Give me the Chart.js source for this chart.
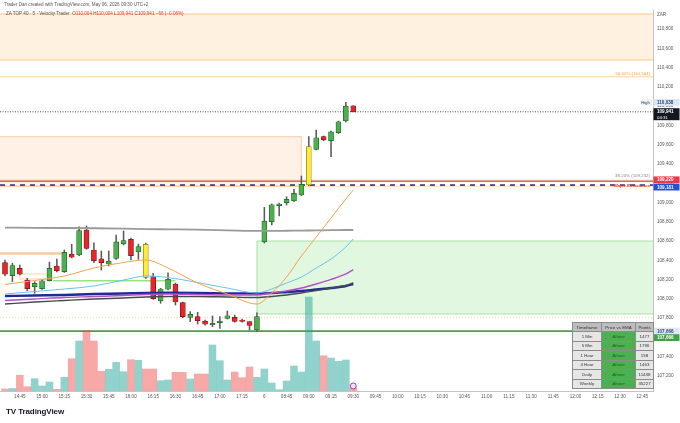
<!DOCTYPE html>
<html>
<head>
<meta charset="utf-8">
<script src="https://cdn.jsdelivr.net/npm/chart.js@4.4.1/dist/chart.umd.min.js"></script>
<style>
  html, body { margin: 0; padding: 0; background: #fff; }
  #wrap { position: relative; width: 680px; height: 423px; overflow: hidden; font-family: "Liberation Sans", Arial, sans-serif; }
  #box { position: absolute; left: 0; top: 0; width: 680px; height: 423px; }
  .hdr { position: absolute; left: 4px; white-space: nowrap; color: #555; font-size: 4.6px; line-height: 6px; }
  .hdr .v { color: #e53935; }
  #logo { position: absolute; left: 6px; top: 407px; font-size: 8px; font-weight: bold; color: #131722; letter-spacing: -0.1px; }
  #tf { position: absolute; left: 572px; top: 322px; border-collapse: collapse; font-size: 4.4px; color: #333; border: 1px solid #8c8c8c; }
  #tf th, #tf td { border: 0.7px solid #8c8c8c; padding: 0; text-align: center; font-weight: normal; }
  #tf th { background: #bdbdbd; height: 8px; }
  #tf td { background: #e6e6e6; height: 8.5px; }
  #tf td.st { background: #4caf50; color: #1b5e20; font-style: italic; }
</style>
</head>
<body>
<div id="wrap">
  <div id="box"><canvas id="c"></canvas></div>
  <div class="hdr" style="top:2px">Trader Dan created with TradingView.com, May 06, 2026 09:30 UTC+2</div>
  <div class="hdr" style="top:11px;left:6px">ZA TOP 40 · 5 · Velocity Trader &nbsp;O<span class="v">110,004</span> H<span class="v">110,004</span> L<span class="v">109,941</span> C<span class="v">109,941</span> <span class="v">−66 (−0.06%)</span></div>
  <table id="tf"></table>
  <div id="logo">TV TradingView</div>
</div>
<script>
// 5-min bars, index 0 = 14:35
const opens  = [108376,108241,108318,108196,108127,108106,108189,108342,108283,108466,108456,108715,108508,108417,108362,108421,108570,108619,108487,108567,108231,107979,108100,108155,107961,107809,107816,107771,107733,107753,107799,107809,107781,107764,107678,108591,108801,108967,108998,109016,109078,109182,109552,109683,109641,109724,109846,110004];
const highs  = [108404,108370,108352,108214,108179,108196,108383,108414,108508,108567,108749,108757,108583,108497,108497,108663,108705,108630,108570,108580,108266,108110,108272,108165,107968,107868,107861,107781,107823,107816,107875,107833,107791,107764,107857,108950,108985,108995,109060,109137,109275,109683,109752,109690,109741,109845,110038,110004];
const lows   = [108238,108179,108248,108085,108058,108098,108186,108280,108275,108425,108450,108515,108376,108300,108342,108410,108560,108404,108411,108214,107995,107955,108094,107937,107806,107764,107740,107727,107712,107695,107792,107758,107758,107678,107666,108580,108767,108860,108974,109010,109070,109172,109545,109640,109475,109717,109836,109941];
const closes = [108256,108345,108256,108106,108162,108189,108318,108293,108484,108432,108708,108525,108397,108376,108393,108591,108604,108448,108542,108224,108002,108103,108204,107968,107816,107841,107774,107737,107747,107771,107826,107768,107768,107726,107816,108808,108977,108985,109033,109096,109189,109579,109672,109649,109732,109838,110001,109941];
const volumes = [20,25,157,43,123,50,90,17,137,323,500,607,500,197,217,287,193,313,307,220,220,103,110,187,187,120,170,170,460,303,110,190,133,240,137,220,80,13,100,250,190,940,500,353,330,297,310,30];
const yellowBars = [19, 41];

// moving averages, sampled at these bar indexes
const maIdx    = [0,4,8,12,16,19,22,26,30,34,36,38,40,42,44,46,47];
const maOrange = [108150,108191,108238,108321,108378,108404,108321,108165,108051,107947,108062,108227,108445,108642,108839,109037,109130];
const maCyan   = [108051,108077,108103,108134,108196,108238,108222,108170,108113,108062,108103,108165,108227,108321,108414,108539,108622];
const maNavy   = [108030,108036,108041,108051,108056,108062,108064,108062,108058,108056,108062,108072,108082,108098,108113,108134,108155];
const maPurple = [107984,107999,108015,108025,108036,108046,108051,108046,108041,108041,108062,108082,108113,108155,108202,108259,108305];
const maBlack  = [107947,107968,107984,107999,108010,108020,108025,108025,108020,108015,108025,108041,108062,108087,108113,108139,108165];
const maGray   = [108739,108738,108736,108733,108729,108725,108722,108718,108712,108705,108705,108707,108709,108711,108713,108715,108715];

// time axis
const timeTicks  = [2,5,8,11,14,17,20,23,26,29,32,35,38,41,44,47,50,53,56,59,62,65,68,71,74,77,80,83,86];
const timeLabels = ['14:45','15:00','15:15','15:30','15:45','16:00','16:15','16:30','16:45','17:00','17:15','6','08:45','09:00','09:15','09:30','09:45','10:00','10:15','10:30','10:45','11:00','11:15','11:30','11:45','12:00','12:15','12:30','12:45'];
const xMin = -0.675, xMax = 87.45;

// price axis
const priceTicks = [107200,107400,107600,107800,108000,108200,108400,108600,108800,109000,109200,109400,109600,109800,110000,110200,110400,110600,110800];
const priceMin = 107045, priceMax = 110997;
const volMax = 3810;

// levels and zones
const dayHigh = 110038, dayLow = 107666, lastPrice = 109941;
const fib50 = 110304, fib382 = 109232, resistance = 109220, blueLevel = 109181, dottedLevel = 107805;
const topZone = [110478, 110956];
const sellZone = [109171, 109683], sellZoneEnd = 40;
const gapZone = [107844, 108601], gapZoneStart = 34;
const leftBand = [108470, 8];          // price, last bar
const leftBox = [108207, 108259, 2, 6];
const greenLine = [108189, 6.5, 23];
const markerPrice = 107097;

// table
const tfNames  = ['1 Min','5 Min','1 Hour','4 Hour','Daily','Weekly'];
const tfState  = ['Above','Above','Above','Above','Above','Above'];
const tfPoints = [1477,1796,158,1463,11438,35227];

const FONT = '"Liberation Sans", Arial, sans-serif';
const fmt = v => Math.round(v).toLocaleString('en-US');

// table
const tf = document.getElementById('tf');
tf.innerHTML = '<tr><th style="width:28px">Timeframe</th><th style="width:33px">Price vs EMA</th><th style="width:17px">Points</th></tr>' +
  tfNames.map((n, i) => `<tr><td>${n}</td><td class="st">${tfState[i]}</td><td>${tfPoints[i]}</td></tr>`).join('');

// candle pieces
const idx = opens.map((_, i) => i);
const up = idx.map(i => closes[i] >= opens[i]);
const bodyFill = idx.map(i => yellowBars.includes(i) ? '#ffeb3b' : (up[i] ? '#4caf50' : '#e8262a'));
const bodyLine = idx.map(i => yellowBars.includes(i) ? '#8d7c10' : (up[i] ? '#1f5f22' : '#7c1414'));
const volFill = idx.map(i => up[i] ? 'rgba(38,166,154,0.5)' : 'rgba(239,83,80,0.5)');

const maLine = (vals, color, w) => ({
  type: 'line', data: maIdx.map((v, k) => ({ x: v, y: vals[k] })),
  borderColor: color, borderWidth: w, pointRadius: 0, cubicInterpolationMode: 'monotone', order: 1, yAxisID: 'y'
});

const overlay = {
  id: 'overlay',
  beforeDatasetsDraw(chart) {
    const { ctx, chartArea: a, scales: { x, y } } = chart;
    const X = v => x.getPixelForValue(v), Y = v => y.getPixelForValue(v);
    ctx.save();
    ctx.beginPath(); ctx.rect(a.left, a.top, a.right - a.left, a.bottom - a.top); ctx.clip();
    const fillBox = (i0, i1, p0, p1, c) => { ctx.fillStyle = c; ctx.fillRect(X(i0), Y(p1), X(i1) - X(i0), Y(p0) - Y(p1)); };
    const hline = (p, c, w, dash, i0 = xMin, i1 = xMax) => {
      ctx.strokeStyle = c; ctx.lineWidth = w; ctx.setLineDash(dash || []);
      ctx.beginPath(); ctx.moveTo(X(i0), Y(p)); ctx.lineTo(X(i1), Y(p)); ctx.stroke();
      ctx.setLineDash([]);
    };
    const vline = (i, p0, p1, c) => {
      ctx.strokeStyle = c; ctx.lineWidth = 1;
      ctx.beginPath(); ctx.moveTo(X(i), Y(p0)); ctx.lineTo(X(i), Y(p1)); ctx.stroke();
    };
    // top supply zone
    fillBox(xMin, xMax, topZone[0], topZone[1], 'rgba(255,167,60,0.16)');
    hline(topZone[0], 'rgba(245,160,60,0.55)', 1);
    hline(topZone[1], 'rgba(245,160,60,0.55)', 1);
    // sell zone
    fillBox(xMin, sellZoneEnd, sellZone[0], sellZone[1], 'rgba(255,160,80,0.15)');
    hline(sellZone[1], 'rgba(245,170,100,0.55)', 1, null, xMin, sellZoneEnd);
    hline(sellZone[0], 'rgba(245,170,100,0.55)', 1, null, xMin, sellZoneEnd);
    vline(sellZoneEnd, sellZone[0], sellZone[1], 'rgba(245,170,100,0.55)');
    // gap zone
    fillBox(gapZoneStart, xMax, gapZone[0], gapZone[1], 'rgba(110,215,100,0.2)');
    hline(gapZone[1], 'rgba(120,210,110,0.6)', 1, null, gapZoneStart, xMax);
    hline(gapZone[0], 'rgba(120,210,110,0.6)', 1, null, gapZoneStart, xMax);
    vline(gapZoneStart, gapZone[0], gapZone[1], 'rgba(120,210,110,0.6)');
    // small marks on the left
    hline(leftBand[0], 'rgba(246,180,120,0.7)', 2.5, null, xMin, leftBand[1]);
    ctx.strokeStyle = 'rgba(246,180,120,0.7)'; ctx.lineWidth = 0.8;
    ctx.strokeRect(X(leftBox[2]), Y(leftBox[1]), X(leftBox[3]) - X(leftBox[2]), Y(leftBox[0]) - Y(leftBox[1]));
    hline(greenLine[0], '#9be37e', 1.5, null, greenLine[1], greenLine[2]);
    // levels
    hline(fib50, 'rgba(245,160,60,0.6)', 0.8);
    hline(lastPrice, '#333', 0.9, [1, 1.5]);
    hline(fib382, 'rgba(245,160,60,0.5)', 0.8);
    hline(resistance, '#e06666', 1.6);
    hline(blueLevel, '#24338f', 1.6, [5, 5]);
    hline(blueLevel - 14, 'rgba(246,190,130,0.6)', 0.8);
    hline(dottedLevel, 'rgba(245,160,80,0.6)', 0.8, [1, 2]);
    hline(dayLow, '#4f9a4f', 1.6);
    ctx.restore();
  },
  afterDraw(chart) {
    const { ctx, chartArea: a, scales: { y } } = chart;
    const Y = v => y.getPixelForValue(v);
    ctx.save();
    ctx.textBaseline = 'middle';
    const tag = (p, text, bg, fg, dy = 0) => {
      const cy = Y(p) + dy;
      ctx.fillStyle = bg; ctx.fillRect(a.right + 0.5, cy - 3.4, 26, 6.8);
      ctx.fillStyle = fg; ctx.font = `bold 4.6px ${FONT}`; ctx.textAlign = 'left';
      ctx.fillText(text, a.right + 4, cy + 0.2);
    };
    const note = (p, text, color, dy, style = '') => {
      ctx.fillStyle = color; ctx.font = `${style} 4.4px ${FONT}`; ctx.textAlign = 'right';
      ctx.fillText(text, a.right - 3, Y(p) + dy);
    };
    tag(dayHigh, fmt(dayHigh), '#dbe7f7', '#2d4a78');
    // last price with countdown
    const cy = Y(lastPrice);
    ctx.fillStyle = '#131722'; ctx.fillRect(a.right + 0.5, cy - 3.6, 26, 12);
    ctx.fillStyle = '#fff'; ctx.font = `bold 4.6px ${FONT}`; ctx.textAlign = 'left';
    ctx.fillText(fmt(lastPrice), a.right + 4, cy);
    ctx.font = `4.4px ${FONT}`; ctx.fillText('04:31', a.right + 4, cy + 5.5);
    tag(resistance, fmt(resistance), '#f23645', '#fff', -1.5);
    tag(blueLevel, fmt(blueLevel), '#2350d8', '#fff', 2);
    tag(dayLow, fmt(dayLow), '#dbe7f7', '#2d4a78');
    tag(dayLow, fmt(dayLow), '#43a047', '#fff', 6.5);
    // labels inside the plot
    note(fib50, '50.00% (110,304)', '#f0a040', -3.5);
    note(fib382, '38.20% (109,232)', '#8a8a8a', -4.5);
    note(blueLevel, 'Major Resistance', '#e53935', 1, 'italic bold');
    ctx.fillStyle = '#e9eef5'; ctx.fillRect(a.right - 12, Y(dayHigh) - 3, 11, 6);
    note(dayHigh, 'High', '#2d4a78', 0.2);
    ctx.fillStyle = '#e9eef5'; ctx.fillRect(a.right - 12, Y(dayLow) - 8, 11, 6);
    note(dayLow, 'Low', '#2d4a78', -4.8);
    // currency
    ctx.fillStyle = '#555'; ctx.font = `4.6px ${FONT}`; ctx.textAlign = 'left';
    ctx.fillText('ZAR', a.right + 4, 15);
    ctx.restore();
  }
};

new Chart(document.getElementById('c'), {
  type: 'bar',
  data: {
    datasets: [
      maLine(maOrange, '#f4a04c', 1),
      maLine(maCyan, '#67c3ea', 1),
      maLine(maPurple, '#b44fc4', 1.4),
      maLine(maBlack, '#4a4a4a', 1.4),
      maLine(maNavy, '#1f2a9a', 2.4),
      maLine(maGray, '#9a9a9a', 1.8),
      {
        type: 'bar', data: idx.map(i => ({ x: i, y: [lows[i], highs[i]] })),
        backgroundColor: '#5a5a5a', barThickness: 0.9, grouped: false, order: 4, yAxisID: 'y'
      },
      {
        type: 'bar', data: idx.map(i => ({ x: i, y: [opens[i], closes[i]] })),
        backgroundColor: bodyFill, borderColor: bodyLine, borderWidth: 0.7, borderSkipped: false,
        barThickness: 5, grouped: false, order: 3, yAxisID: 'y'
      },
      {
        type: 'bar', data: idx.map(i => ({ x: i, y: volumes[i] })),
        backgroundColor: volFill, barThickness: 6.9, grouped: false, order: 6, yAxisID: 'yv'
      },
      {
        type: 'scatter', data: [{ x: 47, y: markerPrice }],
        pointRadius: 3, pointBackgroundColor: '#f3e5f5', pointBorderColor: '#9c27b0', pointBorderWidth: 0.9, order: 0, yAxisID: 'y'
      }
    ]
  },
  options: {
    responsive: true,
    maintainAspectRatio: false,
    animation: false,
    layout: { autoPadding: false, padding: { top: 10, left: 0, right: 0, bottom: 0 } },
    plugins: { legend: { display: false }, tooltip: { enabled: false } },
    scales: {
      x: {
        type: 'linear', min: xMin, max: xMax, offset: false,
        grid: { display: false, drawTicks: false },
        border: { display: true, color: '#c4c4c4' },
        afterBuildTicks: s => { s.ticks = timeTicks.map(v => ({ value: v })); },
        afterFit: s => { s.height = 32; s.paddingLeft = 0; s.paddingRight = 0; },
        ticks: {
          autoSkip: false, maxRotation: 0, padding: 3, color: '#555',
          font: { size: 4.6, family: FONT },
          callback: v => timeLabels[timeTicks.indexOf(v)]
        }
      },
      y: {
        position: 'right', min: priceMin, max: priceMax,
        grid: { display: false, drawTicks: false },
        border: { display: true, color: '#c4c4c4' },
        afterBuildTicks: s => { s.ticks = priceTicks.map(v => ({ value: v })); },
        afterFit: s => { s.width = 27; s.paddingTop = 0; s.paddingBottom = 0; },
        ticks: { padding: 4, color: '#555', font: { size: 4.6, family: FONT }, callback: v => fmt(v) }
      },
      yv: { display: false, position: 'right', min: 0, max: volMax }
    }
  },
  plugins: [overlay]
});
</script>
</body>
</html>
